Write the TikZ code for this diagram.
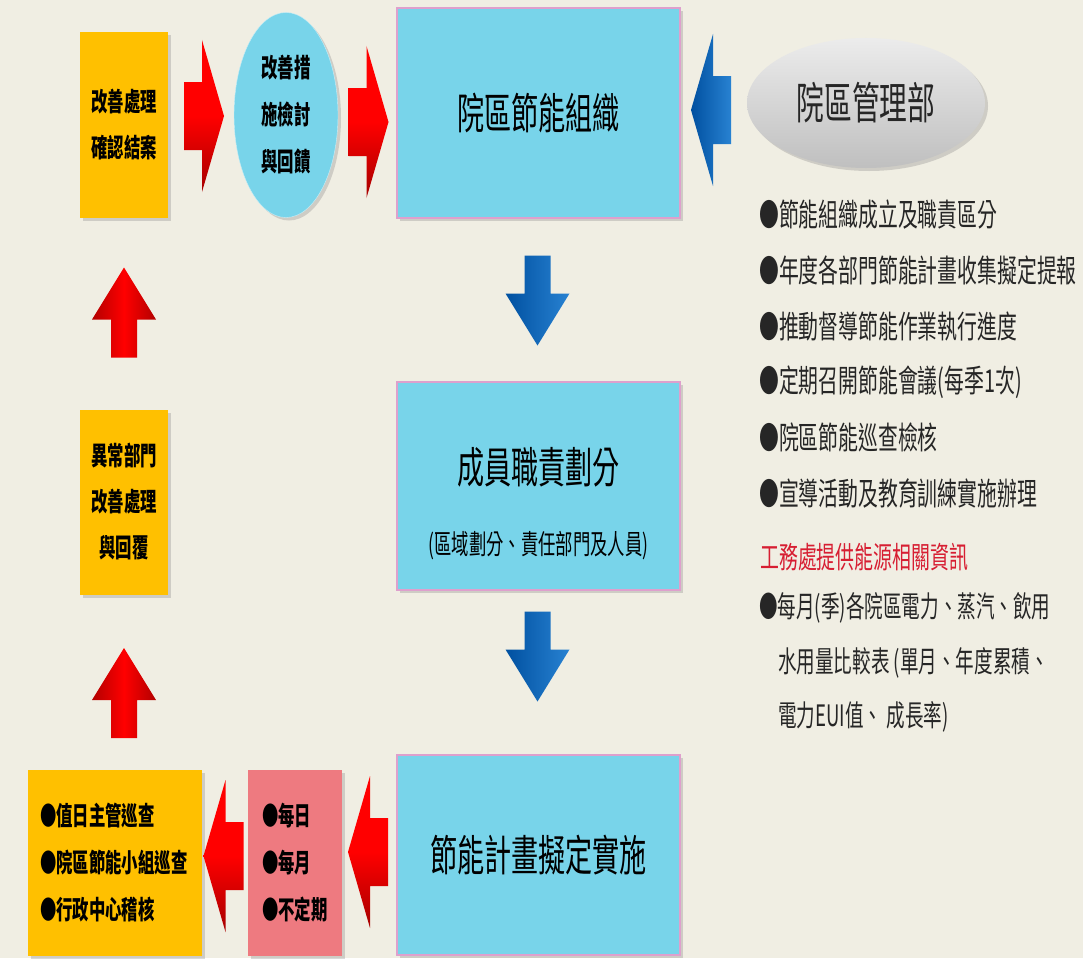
\documentclass[tikz,border=0pt]{standalone}
\usepackage{fontspec}
\setmainfont{Noto Sans CJK TC}[FakeStretch=0.63]
\usetikzlibrary{shapes.geometric}
\usetikzlibrary{shadows}
\definecolor{paper}{RGB}{240,238,227}
\definecolor{boxblue}{RGB}{120,212,234}
\definecolor{boxrim}{RGB}{222,160,205}
\definecolor{boxorange}{RGB}{255,192,0}
\definecolor{boxpink}{RGB}{238,122,128}
\definecolor{darkblue}{RGB}{0,80,160}
\definecolor{lightblue}{RGB}{40,130,210}
\definecolor{headred}{RGB}{215,30,50}
\tikzset{
    softshadow/.style = {drop shadow={shadow xshift=3pt, shadow yshift=-3pt, opacity=0.3}},
    bigbox/.style = {rectangle, draw=boxrim, line width=1.5pt, fill=boxblue, minimum width=283pt, softshadow, font=\fontsize{43}{50}\selectfont},
    orgbox/.style = {rectangle, fill=boxorange, minimum width=88pt, minimum height=185pt, softshadow, align=center, font=\bfseries\fontsize{26}{46}\selectfont},
    listbox/.style = {rectangle, inner ysep=0pt, minimum height=186pt, softshadow, align=left, font=\bfseries\fontsize{26}{47}\selectfont},
    subtext/.style = {font=\fontsize{27.5}{30}\selectfont},
    item/.style = {anchor=west, inner sep=0pt, text=black!85, font=\fontsize{31.5}{38}\selectfont},
    itemb/.style = {anchor=west, inner sep=0pt, text=black!85, font=\fontsize{29.5}{36}\selectfont},
    redh/.style = {top color=red, bottom color=red!65!black, middle color=red},
    redv/.style = {left color=red!70!black, right color=red!70!black, middle color=red},
    bluearr/.style = {left color=darkblue, right color=lightblue},
    pics/harrow/.style = {code={\path[pic actions] (-20,-34) -- (-2,-34) -- (-2,-76) -- (20,0) -- (-2,76) -- (-2,34) -- (-20,34) -- cycle;}},
    pics/varrow/.style = {code={\path[pic actions] (-13,-45) -- (13,-45) -- (13,-7) -- (32,-7) -- (0,45) -- (-32,-7) -- (-13,-7) -- cycle;}}
}

\begin{document}
\begin{tikzpicture}[x=1pt, y=-1pt]
\fill[paper] (0,0) rectangle (1083,958);
\useasboundingbox (0,0) rectangle (1083,958);

\node[orgbox] at (124, 125) (fixdone) {改善處理\\確認結案};
\node[ellipse, fill=boxblue, draw=white!60!boxblue, minimum width=104pt, minimum height=205pt, softshadow, align=center, font=\bfseries\fontsize{26}{47}\selectfont] at (286, 115) (review) {改善措\\施檢討\\與回饋};
\node[bigbox, minimum height=210pt] at (538.5, 113) (org) {院區節能組織};
\node[ellipse, top color=gray!15, bottom color=gray!50, minimum width=238pt, minimum height=130pt, softshadow, text=black!85, font=\fontsize{44}{50}\selectfont] at (866, 103) (mgmt) {院區管理部};

\node[bigbox, minimum height=208pt] at (538.5, 486) (duty) {};
\node[font=\fontsize{43}{50}\selectfont] at (538.5, 467) (dutytitle) {成員職責劃分};
\node[subtext] at (538.5, 546) (dutysub) {(區域劃分、責任部門及人員)};
\node[bigbox, minimum height=200pt] at (538.5, 855) (plan) {節能計畫擬定實施};

\node[orgbox] at (124, 502) (fixdept) {異常部門\\改善處理\\與回覆};
\node[listbox, fill=boxorange, text width=150pt, inner xsep=12pt] at (115, 863) (patrol) {●值日主管巡查\\●院區節能小組巡查\\●行政中心稽核};
\node[listbox, fill=boxpink, text width=66pt, inner xsep=14pt] at (295, 863) (freq) {●每日\\●每月\\●不定期};

% arrows
\pic[redh] at (204, 116) {harrow};
\pic[redh] at (368.5, 122) {harrow};
\pic[bluearr, rotate=180] at (711, 110) {harrow};
\pic[bluearr] at (537.5, 300.5) {varrow};
\pic[bluearr] at (537.5, 656.5) {varrow};
\pic[redv, rotate=180] at (124, 312.5) {varrow};
\pic[redv, rotate=180] at (124, 693) {varrow};
\pic[redh, rotate=180] at (223.5, 856) {harrow};
\pic[redh, rotate=180] at (368, 852) {harrow};

% management tasks
\foreach \t [count=\i] in {節能組織成立及職責區分, 年度各部門節能計畫收集擬定提報, 推動督導節能作業執行進度, 定期召開節能會議(每季1次), 院區節能巡查檢核, 宣導活動及教育訓練實施辦理}
    \node[item] at (759, 215+55.6*\i-55.6) (task\i) {●\t};

\node[anchor=west, inner sep=0pt, text=headred, font=\fontsize{30}{34}\selectfont] at (760, 557) (works) {工務處提供能源相關資訊};
\node[itemb] at (759, 608) (info1) {●每月(季)各院區電力、蒸汽、飲用};
\node[itemb] at (778, 662.5) (info2) {水用量比較表 (單月、年度累積、};
\node[itemb] at (778, 717) (info3) {電力EUI值、 成長率)};

\end{tikzpicture}
\end{document}
